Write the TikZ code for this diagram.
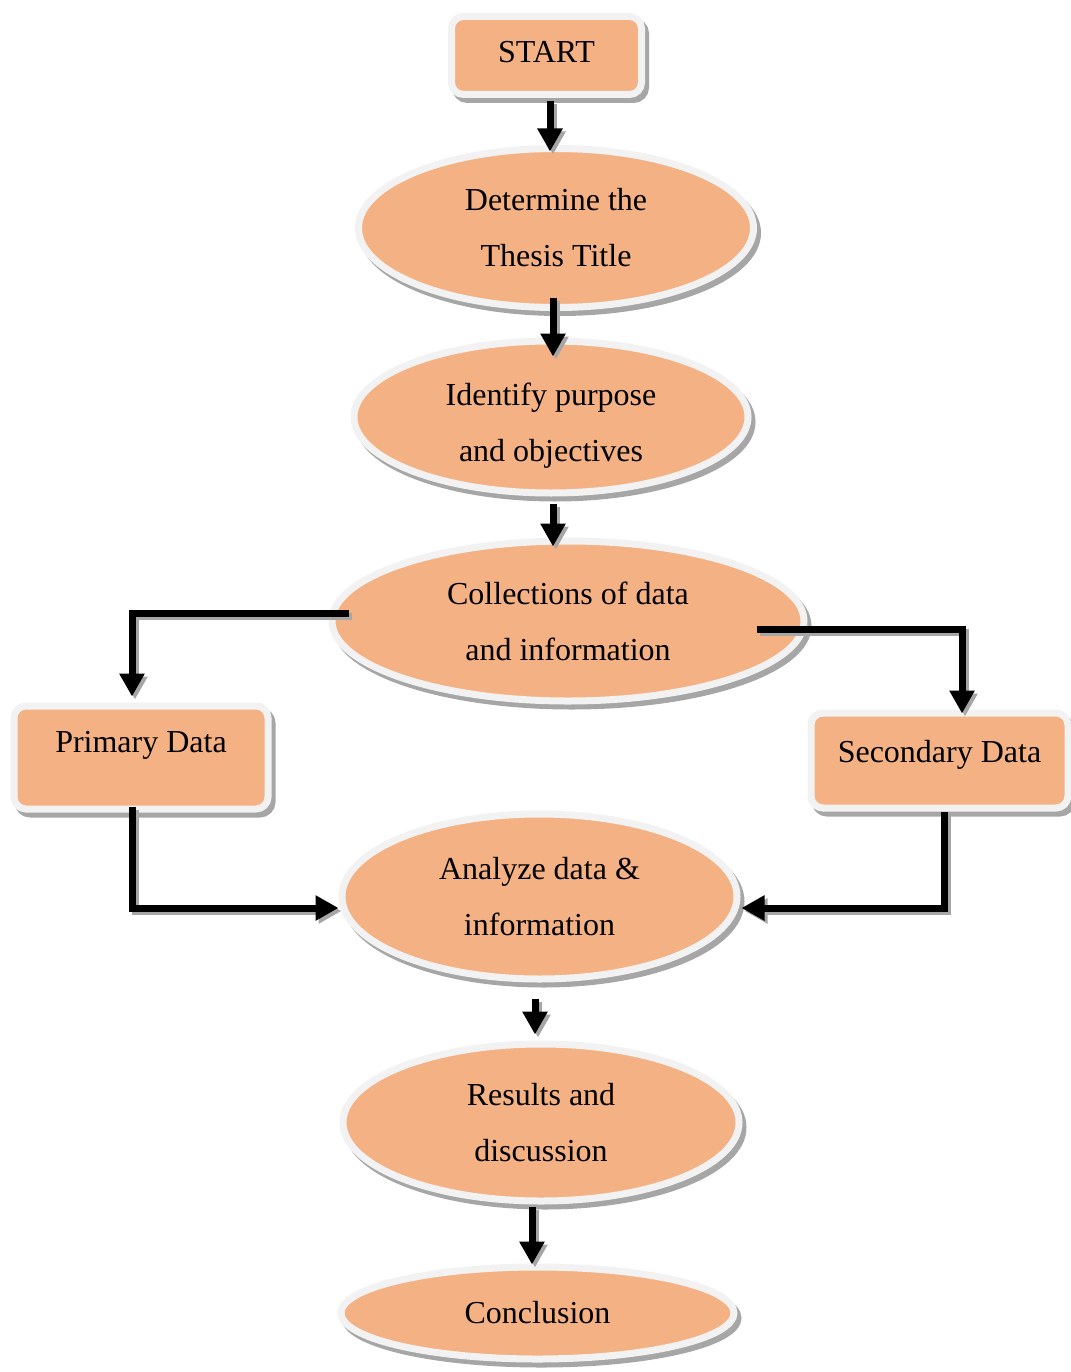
\documentclass[tikz,border=0pt]{standalone}
\usepackage{fontspec}
\setmainfont{Liberation Serif}
\usetikzlibrary{arrows.meta, shapes.geometric}

\definecolor{boxorange}{HTML}{F4B183}
\definecolor{rimgray}{HTML}{F2F2F2}
\definecolor{shadegray}{HTML}{A6A6A6}

\begin{document}
\begin{tikzpicture}[x=1pt, y=-1pt,
    block/.style={draw=rimgray, line width=7pt, fill=boxorange, inner sep=0pt,
        align=center, font=\fontsize{32}{56}\selectfont,
        preaction={draw=shadegray, fill=shadegray, line width=7pt,
            transform canvas={shift={(4pt,-5pt)}}}},
    stepbox/.style={block, rectangle, rounded corners=12pt},
    oval/.style={block, ellipse},
    link/.style={line width=7pt, -{Triangle[width=24pt, length=23pt]},
        preaction={draw=shadegray, line width=7pt,
            transform canvas={shift={(3pt,-3pt)}}}}]
    \useasboundingbox (0,0) rectangle (1070,1372);

    % Pasos principales
    \node[stepbox, minimum width=190pt, minimum height=78pt, text depth=7.5pt] (start) at (546.5,55.5) {START};
    \node[oval, minimum width=395pt, minimum height=159pt] (title) at (556,228) {Determine the\\Thesis Title};
    \node[oval, minimum width=394pt, minimum height=152pt, text height=95pt] (purpose) at (551,417) {Identify purpose\\and objectives};
    \node[oval, minimum width=472pt, minimum height=160pt] (collect) at (568,621) {Collections of data\\and information};

    % Fuentes de datos
    \node[stepbox, minimum width=254pt, minimum height=103pt, text depth=30.5pt] (primary) at (141,757.5) {Primary Data};
    \node[stepbox, minimum width=257pt, minimum height=95pt, text depth=18.5pt] (secondary) at (939.5,760.5) {Secondary Data};

    % Análisis y cierre
    \node[oval, minimum width=395pt, minimum height=165pt] (analyze) at (539.5,896.5) {Analyze data \&\\information};
    \node[oval, minimum width=396pt, minimum height=157pt] (results) at (541,1122.5) {Results and\\discussion};
    \node[oval, minimum width=393pt, minimum height=92pt] (concl) at (537.5,1313) {Conclusion};

    % Flechas
    \draw[link] ([xshift=3.5pt,yshift=-3.5pt]start.south) -- ([xshift=3.5pt,yshift=-6.5pt]start.south |- title.north);
    \draw[link] ([xshift=-3pt,yshift=13.5pt]title.south) -- ([xshift=-3pt,yshift=-19pt]title.south |- purpose.north);
    \draw[link] ([xshift=2pt,yshift=-7pt]purpose.south) -- ([xshift=2pt,yshift=-9pt]purpose.south |- collect.north);
    \draw[link] ([xshift=20pt,yshift=7.5pt]collect.west) -| ([xshift=-9pt,yshift=6pt]primary.north);
    \draw[link] ([xshift=-51pt,yshift=-8pt]collect.east) -| ([xshift=22.5pt,yshift=-4pt]secondary.north);
    \draw[link] ([xshift=-9pt,yshift=6pt]primary.south) |- ([yshift=-11.5pt]analyze.west);
    \draw[link] ([xshift=5pt]secondary.south) |- ([xshift=1pt,yshift=-11.5pt]analyze.east);
    \draw[link] ([xshift=-4.5pt,yshift=-16pt]analyze.south) -- ([xshift=-4.5pt,yshift=6pt]analyze.south |- results.north);
    \draw[link] ([xshift=-9pt,yshift=-2pt]results.south) -- ([xshift=-9pt,yshift=-1pt]results.south |- concl.north);
\end{tikzpicture}
\end{document}
